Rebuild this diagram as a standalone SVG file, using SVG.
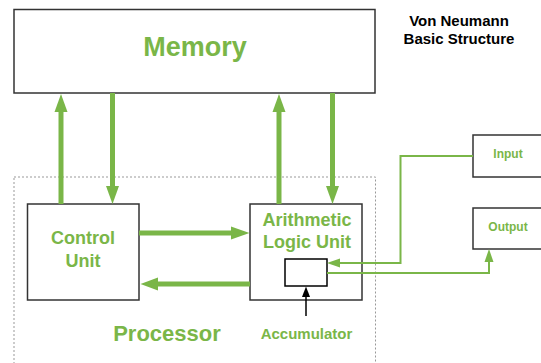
<svg xmlns="http://www.w3.org/2000/svg" width="541" height="363" viewBox="0 0 541 363">
<style>
.box{fill:#fff;stroke:#333;stroke-width:1.5}
.acc{fill:#fff;stroke:#000;stroke-width:1.5}
.t{font-family:"Liberation Sans",Arial,sans-serif;font-weight:bold;fill:#7AB648;text-anchor:middle}
.k{font-family:"Liberation Sans",Arial,sans-serif;font-weight:bold;fill:#000;text-anchor:middle}
.thick{stroke:#7AB648;stroke-width:5;fill:none}
.thin{stroke:#7AB648;stroke-width:2;fill:none}
.head{fill:#7AB648}
</style>
<rect width="541" height="363" fill="#fff"/>
<g id="processor">
<rect x="14" y="177" width="361.5" height="200" fill="none" stroke="#999" stroke-width="1" stroke-dasharray="2 2"/>
<text class="t" x="167" y="341" font-size="22">Processor</text>
</g>
<g id="memory">
<rect class="box" x="14" y="9.5" width="361" height="83.5"/>
<text class="t" x="195" y="56" font-size="27">Memory</text>
</g>
<g id="title">
<text class="k" x="459" y="26" font-size="15">Von Neumann</text>
<text class="k" x="459" y="44" font-size="15">Basic Structure</text>
</g>
<g id="control-unit">
<rect class="box" x="27.5" y="204" width="111.5" height="96"/>
<text class="t" x="83" y="244" font-size="18">Control</text>
<text class="t" x="83" y="266.5" font-size="18">Unit</text>
</g>
<g id="alu">
<rect class="box" x="250" y="204" width="112" height="96"/>
<text class="t" x="307" y="226" font-size="18">Arithmetic</text>
<text class="t" x="307" y="248" font-size="18">Logic Unit</text>
</g>
<g id="accumulator">
<rect class="acc" x="285" y="259" width="42" height="27"/>
<text class="t" x="306.5" y="339" font-size="15">Accumulator</text>
</g>
<g id="input">
<rect class="box" x="473" y="135" width="75" height="42"/>
<text class="t" x="508" y="158" font-size="12">Input</text>
</g>
<g id="output">
<rect class="box" x="473" y="208" width="75" height="41"/>
<text class="t" x="508" y="231" font-size="12">Output</text>
</g>
<g id="connectors">
<line class="thick" x1="61" y1="204" x2="61" y2="110"/>
<polygon class="head" points="61,94 54.5,112 67.5,112"/>
<line class="thick" x1="112.5" y1="93" x2="112.5" y2="188"/>
<polygon class="head" points="112.5,204 106,186 119,186"/>
<line class="thick" x1="279" y1="204" x2="279" y2="110"/>
<polygon class="head" points="279,94 272.5,112 285.5,112"/>
<line class="thick" x1="332.5" y1="93" x2="332.5" y2="188"/>
<polygon class="head" points="332.5,204 326,186 339,186"/>
<line class="thick" x1="139" y1="233" x2="233" y2="233"/>
<polygon class="head" points="249.5,233 231,226.5 231,239.5"/>
<line class="thick" x1="250" y1="284" x2="156" y2="284"/>
<polygon class="head" points="140.5,284 158,277.5 158,290.5"/>
<polyline class="thin" points="473,156 400.5,156 400.5,263 338,263"/>
<polygon class="head" points="327,263 340,258.5 340,267.5"/>
<polyline class="thin" points="327,273 489,273 489,261"/>
<polygon class="head" points="489,249 484.5,262 493.5,262"/>
<line x1="306" y1="316" x2="306" y2="296" stroke="#000" stroke-width="1.5"/>
<polygon points="306,286.5 302,297 310,297" fill="#000"/>
</g>
</svg>
